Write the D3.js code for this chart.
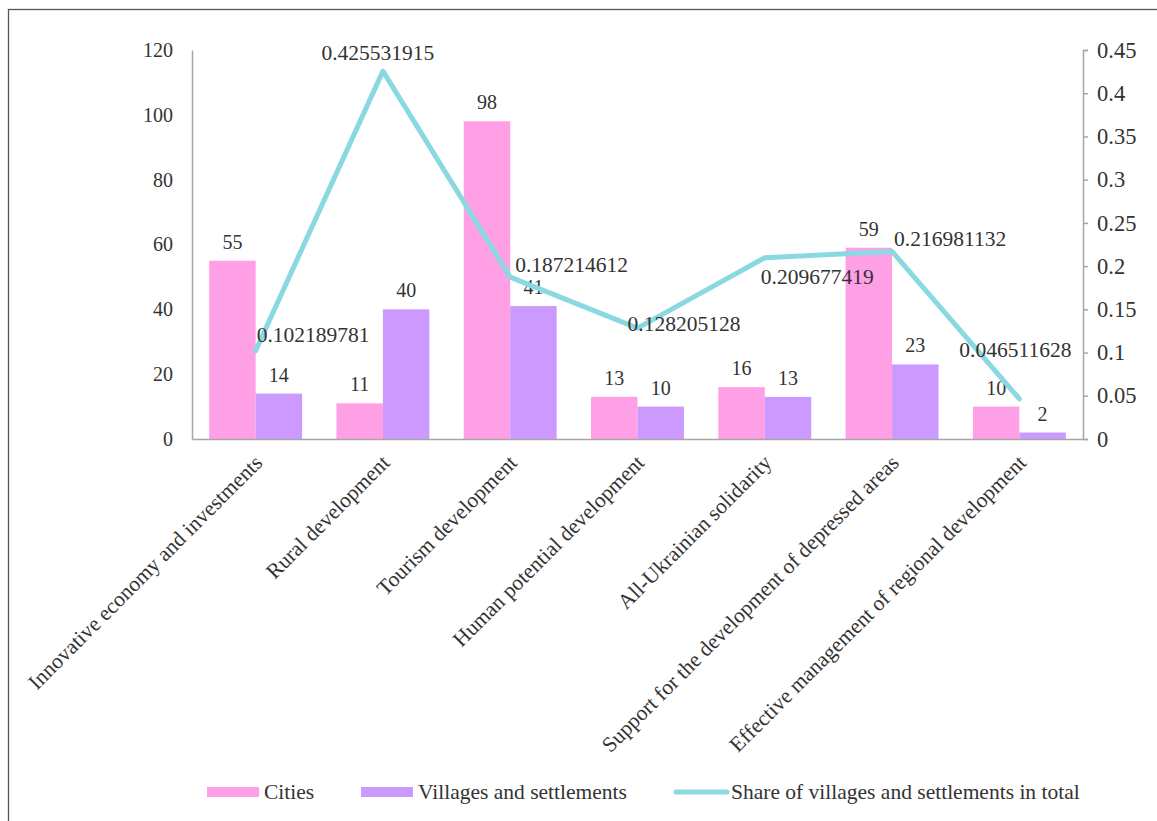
<!DOCTYPE html>
<html>
<head>
<meta charset="utf-8">
<script src="https://cdn.jsdelivr.net/npm/d3@7/dist/d3.min.js"></script>
<style>
  html, body { margin: 0; padding: 0; background: #fff; }
  svg { display: block; }
  text { font-family: "Liberation Serif", "Times New Roman", serif; fill: #333; }
</style>
</head>
<body>
<svg id="chart" width="1157" height="821"></svg>
<script>
// ---- data ----
const categories = [
  "Innovative economy and investments",
  "Rural development",
  "Tourism development",
  "Human potential development",
  "All-Ukrainian solidarity",
  "Support for the development of depressed areas",
  "Effective management of regional development"
];
const cities = [55, 11, 98, 13, 16, 59, 10];
const villages = [14, 40, 41, 10, 13, 23, 2];
const share = [0.102189781, 0.425531915, 0.187214612, 0.128205128, 0.209677419, 0.216981132, 0.046511628];
const leftTicks = [0, 20, 40, 60, 80, 100, 120];
const rightTicks = [0, 0.05, 0.1, 0.15, 0.2, 0.25, 0.3, 0.35, 0.4, 0.45];
const seriesNames = ["Cities", "Villages and settlements", "Share of villages and settlements in total"];

// ---- layout / style ----
const colors = { cities: "#ff9fe5", villages: "#cc99ff", line: "#8ad8e1", axis: "#a6a6a6" };
const plot = { left: 192, right: 1083, top: 50, bottom: 439 };
// manual label offsets for the line labels (layout only): [dx, dy, anchor]
const lineLabelPos = [
  [1, -9, "start"], [-5, -11, "middle"], [5, -5, "start"], [-10, 3, "start"],
  [-4, 26, "start"], [2, -5, "start"], [-4, -42, "middle"]
];

const svg = d3.select("#chart");
const SERIF = "Liberation Serif";

// outer border (only left/top visible in the reference)
svg.append("rect").attr("x", 8.5).attr("y", 9.5).attr("width", 1170).attr("height", 830)
  .attr("fill", "none").attr("stroke", "#555").attr("stroke-width", 1.3);

const x = d3.scaleBand().domain(categories).range([plot.left, plot.right]).padding(0);
const yL = d3.scaleLinear().domain([0, 120]).range([plot.bottom, plot.top]);
const yR = d3.scaleLinear().domain([0, 0.45]).range([plot.bottom, plot.top]);

const bw = x.bandwidth() * 0.365;

// bars
const g = svg.append("g");
g.selectAll("rect.c").data(cities).join("rect")
  .attr("x", (d, i) => x(categories[i]) + x.bandwidth() / 2 - bw)
  .attr("y", d => yL(d)).attr("width", bw).attr("height", d => yL(0) - yL(d))
  .attr("fill", colors.cities);
g.selectAll("rect.v").data(villages).join("rect")
  .attr("x", (d, i) => x(categories[i]) + x.bandwidth() / 2)
  .attr("y", d => yL(d)).attr("width", bw).attr("height", d => yL(0) - yL(d))
  .attr("fill", colors.villages);

// bar labels
g.selectAll("text.cl").data(cities).join("text")
  .attr("x", (d, i) => x(categories[i]) + x.bandwidth() / 2 - bw / 2)
  .attr("y", d => yL(d) - 12).attr("text-anchor", "middle")
  .style("font-family", SERIF).style("font-size", "20px").text(d => d);
g.selectAll("text.vl").data(villages).join("text")
  .attr("x", (d, i) => x(categories[i]) + x.bandwidth() / 2 + bw / 2)
  .attr("y", d => yL(d) - 12).attr("text-anchor", "middle")
  .style("font-family", SERIF).style("font-size", "20px").text(d => d);

// left axis
const axL = svg.append("g").attr("transform", `translate(${plot.left},0)`)
  .call(d3.axisLeft(yL).tickValues(leftTicks).tickSize(0).tickPadding(19));
axL.select(".domain").attr("stroke", colors.axis).attr("stroke-width", 1.5);
axL.selectAll("text").style("font-size", "20px").style("font-family", SERIF).attr("fill", "#333");

// right axis
const axR = svg.append("g").attr("transform", `translate(${plot.right},0)`)
  .call(d3.axisRight(yR).tickValues(rightTicks).tickSize(5).tickPadding(9).tickFormat(d => String(+d.toFixed(2))));
axR.select(".domain").attr("stroke", colors.axis).attr("stroke-width", 1.5);
axR.selectAll("line").attr("stroke", colors.axis).attr("stroke-width", 1.5);
axR.selectAll("text").style("font-size", "22.5px").style("font-family", SERIF).attr("fill", "#333");

// bottom axis
const axB = svg.append("g").attr("transform", `translate(0,${plot.bottom})`)
  .call(d3.axisBottom(x).tickSize(0).tickFormat(""));
axB.select(".domain").attr("stroke", colors.axis).attr("stroke-width", 1.5);

// category labels
svg.append("g").selectAll("text").data(categories).join("text")
  .attr("transform", d => `translate(${x(d) + x.bandwidth() / 2 + 8},${plot.bottom + 25}) rotate(-45)`)
  .attr("text-anchor", "end").style("font-family", SERIF).style("font-size", "21.5px").text(d => d);

// line
const line = d3.line().x((d, i) => x(categories[i]) + x.bandwidth() / 2).y(d => yR(d));
svg.append("path").datum(share).attr("d", line).attr("fill", "none")
  .attr("stroke", colors.line).attr("stroke-width", 5).attr("stroke-linejoin", "round").attr("stroke-linecap", "round");

svg.append("g").selectAll("text").data(share).join("text")
  .attr("x", (d, i) => x(categories[i]) + x.bandwidth() / 2 + lineLabelPos[i][0])
  .attr("y", (d, i) => yR(d) + lineLabelPos[i][1])
  .attr("text-anchor", (d, i) => lineLabelPos[i][2])
  .style("font-family", SERIF).style("font-size", "21.5px").text(d => d);

// legend
const leg = svg.append("g").attr("transform", "translate(0,792)");
const legItems = [
  { name: seriesNames[0], type: "rect", color: colors.cities, x: 207 },
  { name: seriesNames[1], type: "rect", color: colors.villages, x: 361 },
  { name: seriesNames[2], type: "line", color: colors.line, x: 674 }
];
legItems.forEach(it => {
  if (it.type === "rect") {
    leg.append("rect").attr("x", it.x).attr("y", -5).attr("width", 52).attr("height", 10).attr("fill", it.color);
  } else {
    leg.append("line").attr("x1", it.x + 2).attr("x2", it.x + 53).attr("y1", 0).attr("y2", 0)
      .attr("stroke", it.color).attr("stroke-width", 5).attr("stroke-linecap", "round");
  }
  leg.append("text").attr("x", it.x + 57).attr("y", 7)
    .style("font-family", SERIF).style("font-size", "21.5px").text(it.name);
});
</script>
</body>
</html>
